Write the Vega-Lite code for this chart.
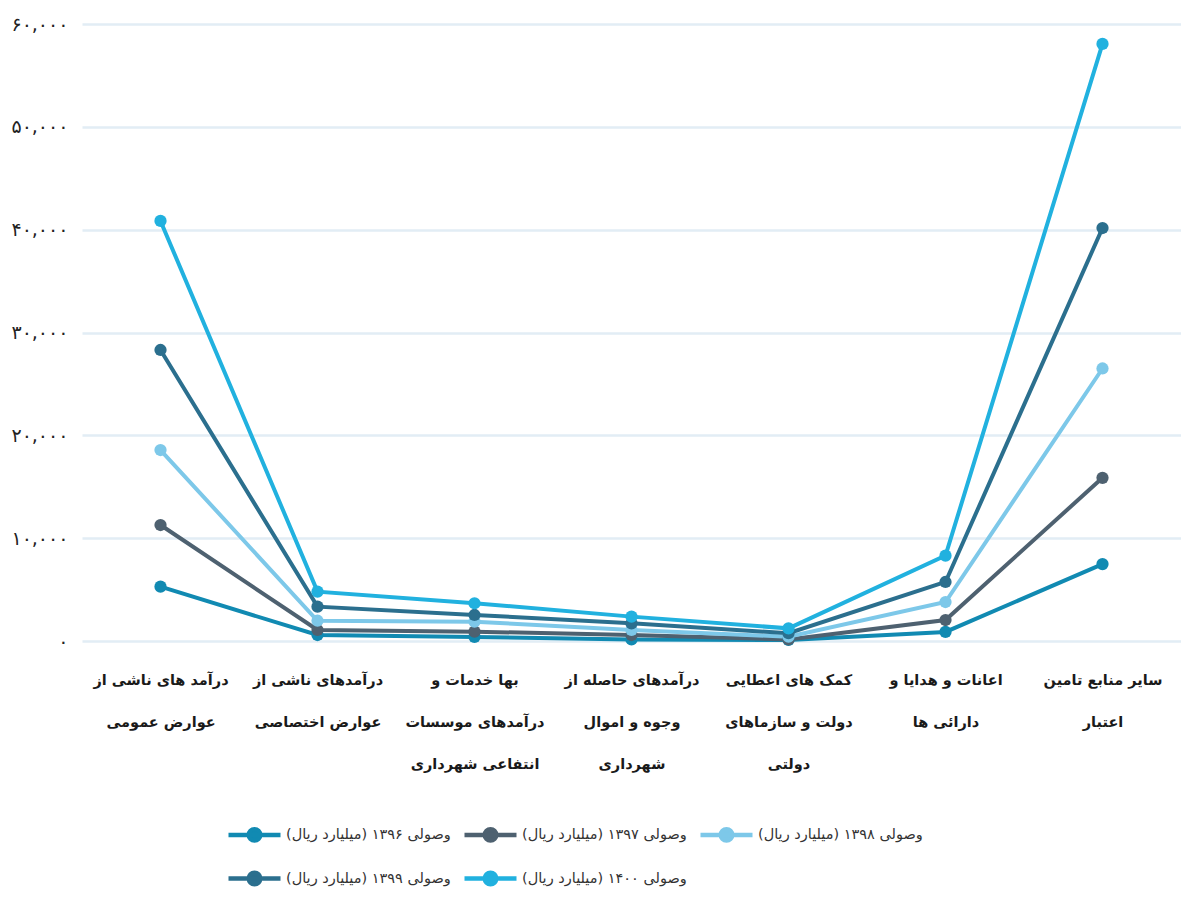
{
  "$schema": "https://vega.github.io/schema/vega-lite/v6.json",
  "autosize": "none",
  "width": 1099,
  "height": 617,
  "padding": {"left": 82, "top": 24, "right": 0, "bottom": 258},
  "background": "#ffffff",
  "config": {"font": "DejaVu Sans", "view": {"stroke": null}},
  "data": {"values": [
    {"cat": "درآمد های ناشی از|عوارض عمومی", "s": "وصولی ۱۳۹۶ (میلیارد ریال)", "v": 5280},
    {"cat": "درآمدهای ناشی از|عوارض اختصاصی", "s": "وصولی ۱۳۹۶ (میلیارد ریال)", "v": 580},
    {"cat": "بها خدمات و|درآمدهای موسسات|انتفاعی شهرداری", "s": "وصولی ۱۳۹۶ (میلیارد ریال)", "v": 400},
    {"cat": "درآمدهای حاصله از|وجوه و اموال|شهرداری", "s": "وصولی ۱۳۹۶ (میلیارد ریال)", "v": 150},
    {"cat": "کمک های اعطایی|دولت و سازماهای|دولتی", "s": "وصولی ۱۳۹۶ (میلیارد ریال)", "v": 100},
    {"cat": "اعانات و هدایا و|دارائی ها", "s": "وصولی ۱۳۹۶ (میلیارد ریال)", "v": 880},
    {"cat": "سایر منابع تامین|اعتبار", "s": "وصولی ۱۳۹۶ (میلیارد ریال)", "v": 7480},

    {"cat": "درآمد های ناشی از|عوارض عمومی", "s": "وصولی ۱۳۹۷ (میلیارد ریال)", "v": 11280},
    {"cat": "درآمدهای ناشی از|عوارض اختصاصی", "s": "وصولی ۱۳۹۷ (میلیارد ریال)", "v": 1070},
    {"cat": "بها خدمات و|درآمدهای موسسات|انتفاعی شهرداری", "s": "وصولی ۱۳۹۷ (میلیارد ریال)", "v": 910},
    {"cat": "درآمدهای حاصله از|وجوه و اموال|شهرداری", "s": "وصولی ۱۳۹۷ (میلیارد ریال)", "v": 580},
    {"cat": "کمک های اعطایی|دولت و سازماهای|دولتی", "s": "وصولی ۱۳۹۷ (میلیارد ریال)", "v": 150},
    {"cat": "اعانات و هدایا و|دارائی ها", "s": "وصولی ۱۳۹۷ (میلیارد ریال)", "v": 2040},
    {"cat": "سایر منابع تامین|اعتبار", "s": "وصولی ۱۳۹۷ (میلیارد ریال)", "v": 15870},

    {"cat": "درآمد های ناشی از|عوارض عمومی", "s": "وصولی ۱۳۹۸ (میلیارد ریال)", "v": 18570},
    {"cat": "درآمدهای ناشی از|عوارض اختصاصی", "s": "وصولی ۱۳۹۸ (میلیارد ریال)", "v": 1970},
    {"cat": "بها خدمات و|درآمدهای موسسات|انتفاعی شهرداری", "s": "وصولی ۱۳۹۸ (میلیارد ریال)", "v": 1880},
    {"cat": "درآمدهای حاصله از|وجوه و اموال|شهرداری", "s": "وصولی ۱۳۹۸ (میلیارد ریال)", "v": 1070},
    {"cat": "کمک های اعطایی|دولت و سازماهای|دولتی", "s": "وصولی ۱۳۹۸ (میلیارد ریال)", "v": 420},
    {"cat": "اعانات و هدایا و|دارائی ها", "s": "وصولی ۱۳۹۸ (میلیارد ریال)", "v": 3790},
    {"cat": "سایر منابع تامین|اعتبار", "s": "وصولی ۱۳۹۸ (میلیارد ریال)", "v": 26500},

    {"cat": "درآمد های ناشی از|عوارض عمومی", "s": "وصولی ۱۳۹۹ (میلیارد ریال)", "v": 28300},
    {"cat": "درآمدهای ناشی از|عوارض اختصاصی", "s": "وصولی ۱۳۹۹ (میلیارد ریال)", "v": 3340},
    {"cat": "بها خدمات و|درآمدهای موسسات|انتفاعی شهرداری", "s": "وصولی ۱۳۹۹ (میلیارد ریال)", "v": 2530},
    {"cat": "درآمدهای حاصله از|وجوه و اموال|شهرداری", "s": "وصولی ۱۳۹۹ (میلیارد ریال)", "v": 1720},
    {"cat": "کمک های اعطایی|دولت و سازماهای|دولتی", "s": "وصولی ۱۳۹۹ (میلیارد ریال)", "v": 760},
    {"cat": "اعانات و هدایا و|دارائی ها", "s": "وصولی ۱۳۹۹ (میلیارد ریال)", "v": 5740},
    {"cat": "سایر منابع تامین|اعتبار", "s": "وصولی ۱۳۹۹ (میلیارد ریال)", "v": 40160},

    {"cat": "درآمد های ناشی از|عوارض عمومی", "s": "وصولی ۱۴۰۰ (میلیارد ریال)", "v": 40850},
    {"cat": "درآمدهای ناشی از|عوارض اختصاصی", "s": "وصولی ۱۴۰۰ (میلیارد ریال)", "v": 4800},
    {"cat": "بها خدمات و|درآمدهای موسسات|انتفاعی شهرداری", "s": "وصولی ۱۴۰۰ (میلیارد ریال)", "v": 3670},
    {"cat": "درآمدهای حاصله از|وجوه و اموال|شهرداری", "s": "وصولی ۱۴۰۰ (میلیارد ریال)", "v": 2370},
    {"cat": "کمک های اعطایی|دولت و سازماهای|دولتی", "s": "وصولی ۱۴۰۰ (میلیارد ریال)", "v": 1230},
    {"cat": "اعانات و هدایا و|دارائی ها", "s": "وصولی ۱۴۰۰ (میلیارد ریال)", "v": 8300},
    {"cat": "سایر منابع تامین|اعتبار", "s": "وصولی ۱۴۰۰ (میلیارد ریال)", "v": 58060}
  ]},
  "mark": {"type": "line", "strokeWidth": 4, "point": {"filled": true, "size": 150}},
  "encoding": {
    "x": {
      "field": "cat", "type": "nominal", "sort": null,
      "scale": {"type": "point", "padding": 0.5},
      "axis": {
        "title": null, "domain": false, "ticks": false, "grid": false,
        "labelAngle": 0, "labelAlign": "center", "labelBaseline": "top",
        "labelExpr": "split(datum.label, '|')",
        "labelFontSize": 14.5, "labelFontWeight": "bold", "labelLineHeight": 42, "labelPadding": 32,
        "labelColor": "#1a1a1a", "labelLimit": 300
      }
    },
    "y": {
      "field": "v", "type": "quantitative",
      "scale": {"domain": [0, 60000]},
      "axis": {
        "title": null, "domain": false, "ticks": false,
        "values": [0, 10000, 20000, 30000, 40000, 50000, 60000],
        "gridColor": "#E2EDF5", "gridWidth": 2.5,
        "labelFontSize": 19, "labelColor": "#222222", "labelPadding": 14,
        "labelExpr": "replace(replace(replace(replace(replace(replace(replace(datum.label, regexp('0','g'), '۰'), regexp('1','g'), '۱'), regexp('2','g'), '۲'), regexp('3','g'), '۳'), regexp('4','g'), '۴'), regexp('5','g'), '۵'), regexp('6','g'), '۶')"
      }
    },
    "color": {
      "field": "s", "type": "nominal", "sort": null,
      "scale": {
        "domain": ["وصولی ۱۳۹۶ (میلیارد ریال)", "وصولی ۱۳۹۷ (میلیارد ریال)", "وصولی ۱۳۹۸ (میلیارد ریال)", "وصولی ۱۳۹۹ (میلیارد ریال)", "وصولی ۱۴۰۰ (میلیارد ریال)"],
        "range": ["#118AB2", "#4E6170", "#7DC8E9", "#2B6F8E", "#21B1DF"]
      },
      "legend": {
        "title": null, "orient": "none", "legendX": 144, "legendY": 782,
        "direction": "horizontal", "columns": 3,
        "symbolType": "M-1,0L1,0M-0.22,0A0.22,0.22,0,1,0,0.22,0A0.22,0.22,0,1,0,-0.22,0Z",
        "symbolSize": 2704, "symbolStrokeWidth": 4.5,
        "labelFontSize": 14.5, "labelColor": "#333333", "labelOffset": 3, "labelLimit": 300,
        "columnPadding": 4, "rowPadding": 0,
        "encode": {"symbols": {"update": {"fill": {"scale": "color", "field": "value"}, "stroke": {"scale": "color", "field": "value"}, "opacity": {"value": 1}}}}
      }
    }
  }
}
